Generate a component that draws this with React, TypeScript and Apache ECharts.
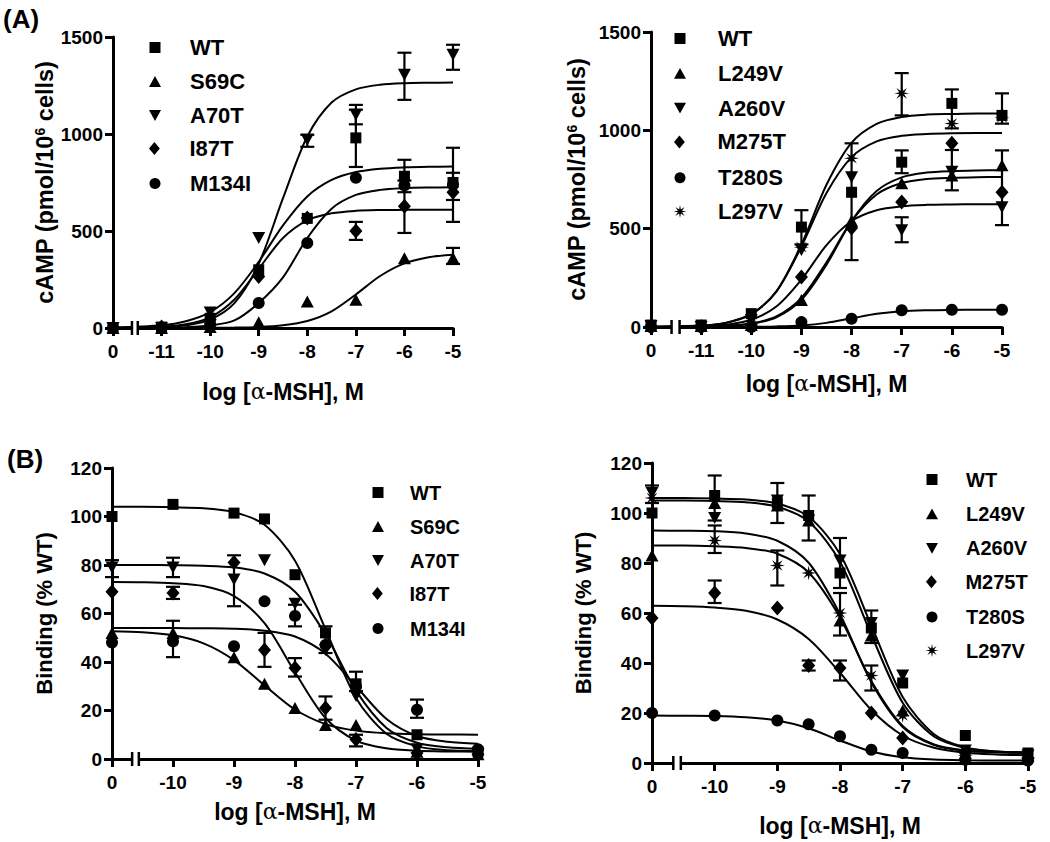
import React, { useEffect, useRef } from "react";
import * as echarts from "echarts";

const FONT = '"Liberation Sans", Arial, Helvetica, sans-serif';

// ---------------- Panel A left: cAMP ----------------
const cAmpFitX = [-12, -11, -10.5, -10, -9.5, -9, -8.5, -8, -7.5, -7, -6.5, -6, -5.5, -5];
const aLeftNames = ["WT", "S69C", "A70T", "I87T", "M134I"];
const aLeftWT = [[-12, 0], [-11, 5], [-10, 50], [-9, 300], [-8, 565], [-7, 980], [-6, 782], [-5, 750]];
const aLeftS69C = [[-12, 0], [-11, 0], [-10, 5], [-9, 30], [-8, 137], [-7, 146], [-6, 360], [-5, 361]];
const aLeftA70T = [[-12, 0], [-11, 0], [-10, 80], [-9, 464], [-8, 971], [-7, 1099], [-6, 1306], [-5, 1409]];
const aLeftI87T = [[-12, 0], [-11, 5], [-10, 43], [-9, 266], [-8, 567], [-7, 500], [-6, 627], [-5, 700]];
const aLeftM134I = [[-12, 0], [-11, 0], [-10, 17], [-9, 129], [-8, 438], [-7, 774], [-6, 735], [-5, 739]];
const aLeftWTFit = [2, 14, 35, 82, 180, 341, 529, 678, 763, 804, 821, 828, 831, 832];
const aLeftS69CFit = [0, 0, 0, 1, 2, 5, 14, 36, 86, 173, 268, 333, 365, 378];
const aLeftA70TFit = [0, 5, 14, 43, 128, 331, 669, 987, 1162, 1230, 1254, 1262, 1264, 1265];
const aLeftI87TFit = [1, 6, 19, 55, 147, 305, 464, 555, 591, 604, 608, 609, 610, 610];
const aLeftM134IFit = [0, 1, 4, 13, 39, 129, 261, 464, 615, 686, 712, 721, 724, 725];
const aLeftErr = [
  [-5, 1331, 1460], [-5, 547, 929], [-5, 660, 800], [-5, 330, 413],
  [-6, 1176, 1419], [-6, 700, 867], [-6, 490, 760],
  [-7, 1050, 1150], [-7, 830, 1125], [-7, 454, 547],
  [-8, 934, 996],
];

// ---------------- Panel A right: cAMP ----------------
const aRightNames = ["WT", "L249V", "A260V", "M275T", "T280S", "L297V"];
const aRightWT = [[-12, 10], [-11, 10], [-10, 68], [-9, 508], [-8, 685], [-7, 838], [-6, 1137], [-5, 1076]];
const aRightL249V = [[-12, 5], [-11, 5], [-10, 10], [-9, 137], [-8, 540], [-7, 731], [-6, 770], [-5, 822]];
const aRightA260V = [[-12, 5], [-11, 0], [-10, 34], [-9, 391], [-8, 761], [-7, 492], [-6, 790], [-5, 609]];
const aRightM275T = [[-12, 0], [-11, 0], [-10, 10], [-9, 254], [-8, 503], [-7, 635], [-6, 934], [-5, 685]];
const aRightT280S = [[-12, 0], [-11, 0], [-10, 0], [-9, 25], [-8, 42], [-7, 85], [-6, 88], [-5, 88]];
const aRightL297V = [[-12, 5], [-11, 5], [-10, 50], [-9, 406], [-8, 858], [-7, 1188], [-6, 1035], [-5, 1066]];
const aRightWTFit = [1, 7, 22, 65, 180, 409, 681, 864, 944, 972, 981, 985, 986, 986];
const aRightL249VFit = [0, 2, 5, 16, 49, 138, 317, 539, 692, 761, 785, 793, 796, 797];
const aRightA260VFit = [0, 4, 12, 37, 104, 241, 416, 539, 594, 614, 621, 623, 624, 624];
const aRightM275TFit = [0, 2, 6, 18, 54, 148, 329, 538, 674, 732, 753, 759, 762, 763];
const aRightT280SFit = [0, 0, 0, 1, 3, 8, 21, 44, 67, 80, 85, 87, 88, 88];
const aRightL297VFit = [1, 7, 21, 65, 181, 420, 723, 937, 1033, 1068, 1080, 1083, 1085, 1085];
const aRightErr = [
  [-7, 1076, 1291], [-7, 782, 898], [-7, 431, 558],
  [-6, 1010, 1208], [-6, 695, 900],
  [-5, 1034, 1188], [-5, 518, 898],
  [-8, 340, 934], [-9, 420, 594],
];

// ---------------- Panel B left: binding ----------------
const bindFitX = [-11, -10.5, -10, -9.5, -9, -8.5, -8, -7.5, -7, -6.5, -6, -5.5, -5];
const bLeftNames = ["WT", "S69C", "A70T", "I87T", "M134I"];
const bLeftWT = [[-11, 100], [-10, 105], [-9, 101.4], [-8.5, 99], [-8, 76], [-7.5, 52], [-7, 31], [-6, 10], [-5, 3]];
const bLeftS69C = [[-11, 52], [-10, 52], [-9, 42], [-8.5, 31], [-8, 21], [-7.5, 14], [-7, 14], [-6, 3], [-5, 2]];
const bLeftA70T = [[-11, 79], [-10, 79], [-9, 74], [-8.5, 82], [-8, 64], [-7.5, 45], [-7, 26], [-6, 4], [-5, 2]];
const bLeftI87T = [[-11, 69], [-10, 68.5], [-9, 81], [-8.5, 45], [-8, 37.5], [-7.5, 21], [-7, 8], [-6, 2.5], [-5, 2]];
const bLeftM134I = [[-11, 48], [-10, 48.5], [-9, 46.5], [-8.5, 65], [-8, 59], [-7.5, 47], [-7, 30], [-6, 20.3], [-5, 4]];
const bLeftWTFit = [104, 104, 103.8, 103.4, 101.8, 96.6, 81.8, 53.5, 25.2, 10.4, 5.2, 3.6, 3.2];
const bLeftS69CFit = [52.7, 52.3, 51.0, 47.7, 40.8, 30.4, 20.4, 14.4, 11.7, 10.6, 10.2, 10.1, 10.0];
const bLeftA70TFit = [80, 80, 79.9, 79.7, 79.0, 76.5, 69.0, 51.4, 28.2, 12.8, 6.7, 4.8, 4.2];
const bLeftI87TFit = [73, 72.9, 72.5, 71.3, 67.2, 56.0, 35.8, 16.9, 7.6, 4.4, 3.4, 3.1, 3.0];
const bLeftM134IFit = [54, 54, 54, 53.9, 53.7, 52.9, 50.5, 43.4, 30.0, 16.5, 9.5, 7.1, 6.3];
const bLeftErr = [
  [-11, 75, 82], [-10, 75, 83], [-10, 66, 71], [-10, 42, 57], [-9, 63, 84],
  [-8.5, 38, 52], [-8, 54.7, 63.6], [-8, 34, 41.6], [-7.5, 43.7, 54.7], [-7.5, 16.2, 25.8],
  [-7, 28, 36], [-7, 5.2, 10], [-6, 17, 24.5],
];

// ---------------- Panel B right: binding ----------------
const bRightNames = ["WT", "L249V", "A260V", "M275T", "T280S", "L297V"];
const bRightWT = [[-11, 100], [-10, 107], [-9, 104], [-8.5, 99], [-8, 76], [-7.5, 54], [-7, 32], [-6, 11], [-5, 4]];
const bRightL249V = [[-11, 83], [-10, 104], [-9, 103], [-8.5, 97], [-8, 57], [-7.5, 51], [-7, 21], [-6, 4], [-5, 3]];
const bRightA260V = [[-11, 108], [-10, 98], [-9, 105], [-8.5, 97], [-8, 81], [-7.5, 56], [-7, 35], [-6, 5], [-5, 3]];
const bRightM275T = [[-11, 58], [-10, 68], [-9, 62], [-8.5, 39], [-8, 38], [-7.5, 20], [-7, 10], [-6, 4], [-5, 2]];
const bRightT280S = [[-11, 20], [-10, 19], [-9, 17], [-8.5, 15.5], [-8, 10.7], [-7.5, 5.3], [-7, 4], [-6, 1.3], [-5, 1]];
const bRightL297V = [[-11, 106], [-10, 89], [-9, 79], [-8.5, 76], [-8, 60], [-7.5, 35], [-7, 19], [-6, 3], [-5, 2]];
const bRightWTFit = [105, 105, 104.8, 104.3, 102.5, 96.6, 80.5, 51.3, 24.1, 10.6, 6.0, 4.6, 4.2];
const bRightL249VFit = [93, 92.9, 92.7, 91.8, 88.9, 80.1, 59.5, 32.3, 14.4, 7.2, 4.9, 4.3, 4.1];
const bRightA260VFit = [106, 106, 105.8, 105.4, 103.8, 98.5, 83.6, 55.0, 26.4, 11.5, 6.2, 4.6, 4.2];
const bRightM275TFit = [62.9, 62.7, 62.2, 60.9, 57.4, 49.6, 36.1, 21.2, 11.0, 6.1, 4.1, 3.4, 3.1];
const bRightT280SFit = [19, 18.9, 18.8, 18.3, 17.0, 13.9, 9.0, 4.6, 2.3, 1.4, 1.1, 1.0, 1.0];
const bRightL297VFit = [87, 87, 86.7, 86.0, 83.7, 76.2, 58.2, 32.8, 14.8, 7.4, 5.0, 4.3, 4.1];
const bRightErr = [
  [-11, 104, 111], [-10, 97, 115], [-10, 84, 95], [-10, 64, 73], [-9, 96, 112], [-9, 71, 85],
  [-8.5, 89, 107], [-8.5, 37, 41], [-8, 70, 90], [-8, 51, 68], [-8, 33, 41],
  [-7.5, 48, 61], [-7.5, 29, 39],
];

const panelsData = [
  { names: aLeftNames, fitX: cAmpFitX, err: aLeftErr,
    pts: [aLeftWT, aLeftS69C, aLeftA70T, aLeftI87T, aLeftM134I],
    fits: [aLeftWTFit, aLeftS69CFit, aLeftA70TFit, aLeftI87TFit, aLeftM134IFit] },
  { names: aRightNames, fitX: cAmpFitX, err: aRightErr,
    pts: [aRightWT, aRightL249V, aRightA260V, aRightM275T, aRightT280S, aRightL297V],
    fits: [aRightWTFit, aRightL249VFit, aRightA260VFit, aRightM275TFit, aRightT280SFit, aRightL297VFit] },
  { names: bLeftNames, fitX: bindFitX, err: bLeftErr,
    pts: [bLeftWT, bLeftS69C, bLeftA70T, bLeftI87T, bLeftM134I],
    fits: [bLeftWTFit, bLeftS69CFit, bLeftA70TFit, bLeftI87TFit, bLeftM134IFit] },
  { names: bRightNames, fitX: bindFitX, err: bRightErr,
    pts: [bRightWT, bRightL249V, bRightA260V, bRightM275T, bRightT280S, bRightL297V],
    fits: [bRightWTFit, bRightL249VFit, bRightA260VFit, bRightM275TFit, bRightT280SFit, bRightL297VFit] },
];

// ---------------- styles / layout ----------------
const SQUARE = "path://M0,0H10V10H0Z";
const UP = "path://M5,0L10,9L0,9Z";
const DOWN = "path://M0,0L10,0L5,9Z";
const DIAMOND = "path://M5,0L10,6L5,12L0,6Z";
const STAR =
  "path://M10,0L11.3,6.8L17.1,2.9L13.2,8.7L20,10L13.2,11.3L17.1,17.1L11.3,13.2L10,20L8.7,13.2L2.9,17.1L6.8,11.3L0,10L6.8,8.7L2.9,2.9L8.7,6.8Z";

const SYM: Record<string, { symbol: string; size: number | number[]; leg: number[] }> = {
  WT: { symbol: SQUARE, size: [11, 11], leg: [11, 11] },
  S69C: { symbol: UP, size: [13, 12], leg: [12, 11] },
  L249V: { symbol: UP, size: [13, 12], leg: [12, 11] },
  A70T: { symbol: DOWN, size: [13, 12], leg: [12, 11] },
  A260V: { symbol: DOWN, size: [13, 12], leg: [12, 11] },
  I87T: { symbol: DIAMOND, size: [13, 15], leg: [12, 13] },
  M275T: { symbol: DIAMOND, size: [13, 15], leg: [12, 13] },
  M134I: { symbol: "circle", size: 12, leg: [11, 11] },
  T280S: { symbol: "circle", size: 12, leg: [11, 11] },
  L297V: { symbol: STAR, size: 15, leg: [13, 13] },
};

const CAMP_NAME = "cAMP (pmol/10{sup|6} cells)";
const BIND_NAME = "Binding (% WT)";

const layouts = [
  { left: 113, top: 37, width: 340, height: 291, xMin: -12, yMax: 1500, yInt: 500, yName: CAMP_NAME, yFont: 23.5,
    yNameGap: 55, xNameGap: 52, brk: [-11.61, -11.49], leg: { iconX: 155, textX: 190, top: 32, gap: 12, font: 22 } },
  { left: 651, top: 32, width: 351, height: 295, xMin: -12, yMax: 1500, yInt: 500, yName: CAMP_NAME, yFont: 23.5,
    yNameGap: 62, xNameGap: 45, brk: [-11.59, -11.43], leg: { iconX: 680, textX: 718, top: 23, gap: 12.8, font: 22 } },
  { left: 112, top: 468, width: 366, height: 291, xMin: -11, yMax: 120, yInt: 20, yName: BIND_NAME, yFont: 22,
    yNameGap: 57, xNameGap: 41, brk: [-10.67, -10.56], leg: { iconX: 378, textX: 410, top: 478, gap: 14, font: 20 } },
  { left: 652, top: 463, width: 376, height: 300, xMin: -11, yMax: 120, yInt: 20, yName: BIND_NAME, yFont: 22,
    yNameGap: 58, xNameGap: 51, brk: [-10.66, -10.54], leg: { iconX: 932, textX: 966, top: 465, gap: 14.4, font: 20 } },
];

function buildOption(): any {
  const grid: any[] = [];
  const xAxis: any[] = [];
  const yAxis: any[] = [];
  const legend: any[] = [];
  const series: any[] = [];
  const axisLine = { onZero: false, lineStyle: { color: "#000", width: 3 } };
  const axisTick = { length: 8, lineStyle: { color: "#000", width: 3 } };
  const labelStyle = { color: "#000", fontSize: 19, fontWeight: "bold", fontFamily: FONT };

  layouts.forEach((L, i) => {
    const P = panelsData[i];
    grid.push({ left: L.left, top: L.top, width: L.width, height: L.height, containLabel: false, outerBoundsMode: "none" });
    xAxis.push({
      gridIndex: i, type: "value", min: L.xMin, max: -5, interval: 1,
      axisLine, axisTick, splitLine: { show: false },
      axisLabel: { ...labelStyle, margin: 14, formatter: (v: number) => (v === L.xMin ? "0" : String(v)) },
      name: "log [{a|\u03b1}-MSH], M", nameLocation: "middle", nameGap: L.xNameGap,
      nameTextStyle: {
        color: "#000", fontSize: 23, fontWeight: "bold", fontFamily: FONT, verticalAlign: "top",
        rich: { a: { fontFamily: '"DejaVu Serif", serif', fontWeight: "normal", fontSize: 22, color: "#000" } },
      },
    });
    yAxis.push({
      gridIndex: i, type: "value", min: 0, max: L.yMax, interval: L.yInt,
      axisLine, axisTick, splitLine: { show: false },
      axisLabel: { ...labelStyle, margin: 10, formatter: (v: number) => String(v) },
      name: L.yName, nameLocation: "middle", nameRotate: 90, nameGap: L.yNameGap,
      nameTextStyle: {
        color: "#000", fontSize: L.yFont, fontWeight: "bold", fontFamily: FONT,
        rich: { sup: { fontSize: 14, fontWeight: "bold", fontFamily: FONT, color: "#000", verticalAlign: "top", padding: [0, 0, 10, 0] } },
      },
    });
    const step = L.leg.font + L.leg.gap;
    P.names.forEach((n, k) => {
      const [w, h] = SYM[n].leg;
      legend.push({
        orient: "vertical", left: L.leg.iconX - w / 2,
        top: L.leg.top + k * step + (L.leg.font - h) / 2 - (L.leg.font - 20) / 2,
        itemWidth: w, itemHeight: h, selectedMode: false, padding: 0,
        data: [{ name: n, icon: SYM[n].symbol }],
        textStyle: { color: "#000", fontSize: L.leg.font, fontWeight: "bold", fontFamily: FONT,
          padding: [0, 0, 0, L.leg.textX - (L.leg.iconX - w / 2) - w - 5] },
      });
    });
    P.names.forEach((n, k) => {
      series.push({
        name: n + " fit", type: "line", xAxisIndex: i, yAxisIndex: i,
        data: P.fitX.map((x, j) => [x, P.fits[k][j]]),
        smooth: 0.3, showSymbol: false, silent: true,
        lineStyle: { color: "#000", width: 2 }, z: 2,
      });
    });
    series.push({
      name: "err" + i, type: "custom", xAxisIndex: i, yAxisIndex: i, data: P.err, silent: true, z: 2,
      encode: { x: 0, y: [1, 2] },
      renderItem: (_p: any, api: any) => {
        const x = api.value(0);
        const lo = api.coord([x, api.value(1)]);
        const hi = api.coord([x, api.value(2)]);
        const w = 7;
        const st = { stroke: "#000", lineWidth: 2.2 };
        return {
          type: "group",
          children: [
            { type: "line", shape: { x1: lo[0], y1: lo[1], x2: hi[0], y2: hi[1] }, style: st },
            { type: "line", shape: { x1: lo[0] - w, y1: lo[1], x2: lo[0] + w, y2: lo[1] }, style: st },
            { type: "line", shape: { x1: hi[0] - w, y1: hi[1], x2: hi[0] + w, y2: hi[1] }, style: st },
          ],
        };
      },
    });
    P.names.forEach((n, k) => {
      series.push({
        name: n, type: "scatter", xAxisIndex: i, yAxisIndex: i, data: P.pts[k],
        symbol: SYM[n].symbol, symbolSize: SYM[n].size,
        itemStyle: { color: "#000", opacity: 1 }, z: 3, silent: true,
      });
    });
  });

  return {
    animation: false,
    backgroundColor: "#fff",
    grid, xAxis, yAxis, legend, series,
  };
}

export default function App() {
  const ref = useRef<HTMLDivElement>(null);
  useEffect(() => {
    if (!ref.current) return;
    const chart = echarts.init(ref.current, undefined, { renderer: "svg" });
    chart.setOption(buildOption());
    const graphics: any[] = [
      { type: "text", left: 3, top: 6, z: 100,
        style: { text: "(A)", fontSize: 26, fontWeight: "bold", fontFamily: FONT, fill: "#000" } },
      { type: "text", left: 7, top: 446, z: 100,
        style: { text: "(B)", fontSize: 26, fontWeight: "bold", fontFamily: FONT, fill: "#000" } },
    ];
    layouts.forEach((L, i) => {
      const p1 = chart.convertToPixel({ gridIndex: i } as any, [L.brk[0], 0]) as number[];
      const p2 = chart.convertToPixel({ gridIndex: i } as any, [L.brk[1], 0]) as number[];
      graphics.push({ type: "rect", z: 100, shape: { x: p1[0], y: p1[1] - 3, width: p2[0] - p1[0], height: 6 }, style: { fill: "#fff" } });
      graphics.push({ type: "line", z: 101, shape: { x1: p1[0], y1: p1[1] - 7, x2: p1[0], y2: p1[1] + 7 }, style: { stroke: "#000", lineWidth: 2.5 } });
      graphics.push({ type: "line", z: 101, shape: { x1: p2[0], y1: p2[1] - 7, x2: p2[0], y2: p2[1] + 7 }, style: { stroke: "#000", lineWidth: 2.5 } });
    });
    chart.setOption({ graphic: graphics });
    return () => chart.dispose();
  }, []);
  return <div ref={ref} style={{ position: "absolute", left: 0, top: 0, width: 1050, height: 842 }} />;
}
